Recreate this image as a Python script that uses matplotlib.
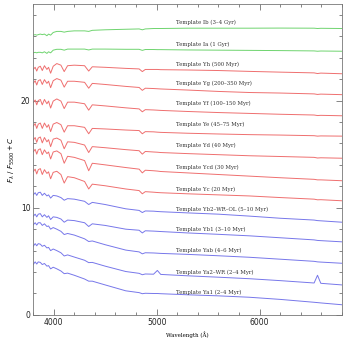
import numpy as np
import matplotlib
matplotlib.use("Agg")
import matplotlib.pyplot as plt
from matplotlib.ticker import MultipleLocator

# wavelength grid (Angstrom)
wave = [3800, 3820, 3835, 3850, 3870, 3889, 3910, 3934, 3950, 3970, 3995, 4030, 4070, 4102,
        4135, 4200, 4300, 4340, 4375, 4500, 4700, 4830, 4861, 4890, 4970, 5007, 5040, 5300,
        5600, 5900, 6200, 6530, 6563, 6595, 6800]

# offset fluxes, top to bottom
Ib = [26.1, 26.15, 26.1, 26.15, 26.2, 26.15, 26.2, 26.05, 26.2, 26.1, 26.35, 26.45, 26.45, 26.38,
      26.45, 26.5, 26.5, 26.45, 26.55, 26.6, 26.65, 26.68, 26.6, 26.68, 26.72, 26.72, 26.72, 26.75,
      26.75, 26.75, 26.76, 26.75, 26.72, 26.74, 26.72]
Ia = [24.45, 24.5, 24.45, 24.5, 24.5, 24.45, 24.55, 24.4, 24.55, 24.45, 24.7, 24.78, 24.78, 24.7,
      24.8, 24.8, 24.8, 24.72, 24.8, 24.8, 24.78, 24.78, 24.68, 24.76, 24.76, 24.75, 24.75, 24.72,
      24.7, 24.68, 24.66, 24.63, 24.6, 24.62, 24.6]
Yh = [22.9, 23.1, 22.75, 23.1, 23.2, 22.8, 23.25, 22.9, 23.1, 22.55, 23.2, 23.45, 23.3, 22.7,
      23.25, 23.3, 23.25, 22.75, 23.15, 23.1, 23.0, 22.95, 22.7, 22.9, 22.9, 22.9, 22.88, 22.85,
      22.8, 22.72, 22.65, 22.58, 22.52, 22.56, 22.5]
Yg = [21.6, 21.85, 21.45, 21.85, 21.95, 21.5, 21.95, 21.6, 21.8, 21.2, 21.85, 22.05, 21.9, 21.25,
      21.8, 21.8, 21.7, 21.15, 21.6, 21.5, 21.32, 21.22, 20.95, 21.15, 21.12, 21.1, 21.08, 20.98,
      20.85, 20.75, 20.7, 20.62, 20.57, 20.6, 20.55]
Yf = [19.8, 20.05, 19.6, 20.0, 20.1, 19.6, 20.1, 19.7, 19.95, 19.3, 19.95, 20.15, 19.95, 19.25,
      19.85, 19.85, 19.7, 19.1, 19.6, 19.5, 19.32, 19.22, 18.95, 19.15, 19.12, 19.1, 19.08, 18.98,
      18.88, 18.8, 18.72, 18.65, 18.6, 18.62, 18.58]
Ye = [17.6, 17.85, 17.4, 17.8, 17.9, 17.4, 17.9, 17.5, 17.75, 17.1, 17.8, 17.95, 17.75, 17.05,
      17.65, 17.65, 17.5, 16.9, 17.4, 17.35, 17.25, 17.2, 16.9, 17.1, 17.08, 17.05, 17.03, 16.95,
      16.88, 16.82, 16.78, 16.72, 16.68, 16.7, 16.68]
Yd = [16.3, 16.55, 16.1, 16.5, 16.6, 16.05, 16.55, 16.15, 16.35, 15.7, 16.4, 16.5, 16.3, 15.5,
      16.15, 16.1, 15.85, 15.15, 15.7, 15.6, 15.42, 15.32, 15.0, 15.25, 15.2, 15.18, 15.15, 15.05,
      14.95, 14.85, 14.78, 14.7, 14.64, 14.66, 14.62]
Ycd = [15.2, 15.45, 15.0, 15.4, 15.5, 14.95, 15.4, 15.05, 15.2, 14.55, 15.2, 15.3, 15.05, 14.15,
       14.8, 14.7, 14.4, 13.45, 14.15, 14.0, 13.75, 13.6, 13.25, 13.5, 13.45, 13.42, 13.38, 13.25,
       13.1, 12.95, 12.8, 12.65, 12.6, 12.6, 12.52]
Yc = [13.35, 13.6, 13.15, 13.55, 13.65, 13.1, 13.55, 13.2, 13.35, 12.7, 13.3, 13.4, 13.1, 12.3,
      12.9, 12.8, 12.45, 11.75, 12.2, 12.05, 11.75, 11.6, 11.3, 11.5, 11.45, 11.42, 11.4, 11.3,
      11.2, 11.1, 10.95, 10.8, 10.74, 10.75, 10.65]
Yb2 = [11.2, 11.4, 11.15, 11.4, 11.45, 11.15, 11.35, 11.1, 11.2, 10.9, 11.15, 11.1, 10.95, 10.7,
       10.85, 10.8, 10.6, 10.3, 10.5, 10.3, 9.9, 9.75, 9.55, 9.7, 9.68, 9.65, 9.63, 9.52,
       9.4, 9.22, 9.02, 8.85, 8.8, 8.78, 8.65]
Yb1 = [9.2, 9.4, 9.15, 9.4, 9.45, 9.15, 9.35, 9.1, 9.25, 8.9, 9.15, 9.1, 8.95, 8.65,
       8.85, 8.8, 8.6, 8.25, 8.5, 8.35, 8.0, 7.9, 7.65, 7.85, 7.82, 7.8, 7.78, 7.65,
       7.52, 7.38, 7.2, 7.0, 6.95, 6.93, 6.82]
Yab = [8.4, 8.6, 8.4, 8.6, 8.6, 8.35, 8.5, 8.25, 8.3, 8.0, 8.15, 8.0, 7.8, 7.5,
       7.6, 7.45, 7.1, 6.85, 6.9, 6.55, 6.05, 5.88, 5.7, 5.8, 5.78, 5.76, 5.74, 5.65,
       5.52, 5.38, 5.2, 5.0, 4.95, 4.93, 4.82]
Ya2 = [6.4, 6.65, 6.45, 6.65, 6.6, 6.4, 6.5, 6.25, 6.3, 6.0, 6.15, 6.0, 5.8, 5.5,
       5.6, 5.4, 5.1, 4.88, 4.9, 4.55, 4.05, 3.88, 3.75, 3.82, 3.8, 4.15, 3.78, 3.65,
       3.52, 3.38, 3.2, 2.98, 3.7, 2.95, 2.8]
Ya1 = [4.7, 4.95, 4.75, 4.95, 4.9, 4.7, 4.8, 4.55, 4.6, 4.3, 4.45, 4.3, 4.1, 3.85,
       3.9, 3.7, 3.35, 3.15, 3.15, 2.8, 2.25, 2.08, 1.98, 2.02, 2.0, 2.0, 1.98, 1.88,
       1.78, 1.65, 1.45, 1.18, 1.15, 1.12, 0.95]

spectra = [Ib, Ia, Yh, Yg, Yf, Ye, Yd, Ycd, Yc, Yb2, Yb1, Yab, Ya2, Ya1]
labels = ["Template Ib (3\u20134 Gyr)", "Template Ia (1 Gyr)", "Template Yh (500 Myr)",
          "Template Yg (200\u2013350 Myr)", "Template Yf (100\u2013150 Myr)",
          "Template Ye (45\u201375 Myr)", "Template Yd (40 Myr)", "Template Ycd (30 Myr)",
          "Template Yc (20 Myr)", "Template Yb2\u2013WR\u2013OL (5\u201310 Myr)",
          "Template Yb1 (3\u201310 Myr)", "Template Yab (4\u20136 Myr)",
          "Template Ya2\u2013WR (2\u20134 Myr)", "Template Ya1 (2\u20134 Myr)"]
label_y = [27.3, 25.25, 23.4, 21.6, 19.75, 17.75, 15.8, 13.8, 11.75, 9.84, 7.96, 6.0, 4.0, 2.06]
groups = ["old", "old", "mid", "mid", "mid", "mid", "mid", "mid", "mid",
          "young", "young", "young", "young", "young"]
colors = {"old": "#6fd46f", "mid": "#ef6f6f", "young": "#7777ea"}

fig = plt.figure(figsize=(3.45, 3.39), dpi=100)
ax = fig.add_axes([0.096, 0.071, 0.895, 0.917])

for flux, lab, ly, g in zip(spectra, labels, label_y, groups):
    ax.plot(wave, flux, color=colors[g], lw=0.7)
    ax.text(5190, ly, lab, fontsize=3.9, family="DejaVu Serif", color="#333333",
            va="center", ha="left")

ax.set_xlim(3800, 6800)
ax.set_ylim(0, 29)
ax.xaxis.set_major_locator(MultipleLocator(1000))
ax.xaxis.set_minor_locator(MultipleLocator(200))
ax.yaxis.set_major_locator(MultipleLocator(10))
ax.yaxis.set_minor_locator(MultipleLocator(2))
ax.tick_params(which="both", direction="in", top=True, right=True, labelsize=5.5,
               width=0.5, colors="#555555", labelcolor="#222222", pad=2)
ax.tick_params(which="major", length=4)
ax.tick_params(which="minor", length=2)
for s in ax.spines.values():
    s.set_linewidth(0.6)
    s.set_color("#777777")

ax.set_xlabel("Wavelength (\u00c5)", fontsize=4, family="DejaVu Serif", labelpad=3)
ax.set_ylabel(r"$F_\lambda\ /\ F_{5500} + C$", fontsize=5, labelpad=3)

fig.savefig("out.png", dpi=100)
